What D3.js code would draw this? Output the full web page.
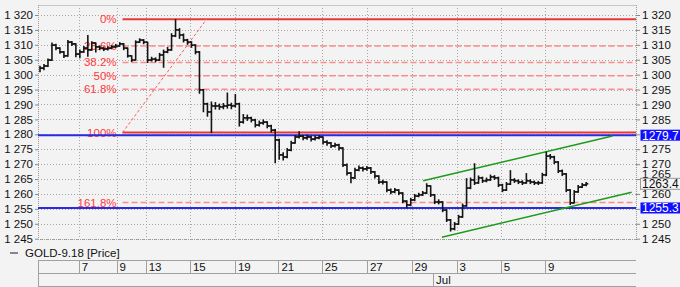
<!DOCTYPE html>
<html>
<head>
<meta charset="utf-8">
<script src="https://cdn.jsdelivr.net/npm/d3@7"></script>
<style>
  html, body { margin: 0; padding: 0; background: #f3f3f3; }
  svg { display: block; font-family: "Liberation Sans", Arial, sans-serif; }
</style>
</head>
<body>
<div class="vis-chart"></div>
<script>
// GOLD-9.18 bars, one per ~1/5 of a trading day
const closes = [
  1302.2, 1302.9, 1304.9, 1309.9, 1308.9, 1307.6, 1306.3, 1310.9, 1310.3, 1306.9,
  1307.6, 1308.9, 1308.3, 1310.6, 1309.3, 1308.9, 1308.6, 1308.9, 1309.3, 1309.6,
  1310.3, 1308.9, 1306.3, 1304.9, 1310.9, 1311.6, 1310.9, 1304.9, 1305.2, 1304.9,
  1306.6, 1307.6, 1308.3, 1313.0, 1315.0, 1313.3, 1311.6, 1310.9, 1309.9, 1307.6,
  1294.9, 1290.2, 1287.5, 1289.5, 1289.5, 1289.2, 1289.5, 1289.8, 1289.5, 1290.2,
  1284.1, 1285.5, 1285.5, 1284.8, 1283.1, 1283.8, 1284.1, 1282.8, 1281.4, 1278.1,
  1273.1, 1272.4, 1274.7, 1277.1, 1279.1, 1279.4, 1278.8, 1279.1, 1278.4, 1278.8,
  1279.1, 1277.4, 1277.1, 1276.1, 1276.4, 1275.4, 1269.7, 1267.0, 1265.4, 1268.0,
  1268.7, 1268.4, 1268.7, 1267.4, 1266.0, 1264.0, 1264.0, 1261.3, 1260.7, 1261.3,
  1260.3, 1257.6, 1256.3, 1258.0, 1259.3, 1259.7, 1260.3, 1262.7, 1259.7, 1257.3,
  1257.3, 1254.6, 1251.3, 1248.3, 1249.9, 1252.3, 1256.0, 1262.0, 1264.7, 1263.7,
  1265.4, 1264.4, 1264.7, 1265.7, 1265.4, 1263.0, 1261.3, 1263.3, 1264.7, 1264.4,
  1264.0, 1263.7, 1264.4, 1264.0, 1263.7, 1263.7, 1266.4, 1272.7, 1272.4, 1270.7,
  1267.7, 1266.7, 1261.3, 1257.0, 1260.7, 1262.3, 1263.0, 1263.4
];
const highs = [
  1303.0, 1303.6, 1305.4, 1310.8, 1310.4, 1309.2, 1307.9, 1311.6, 1311.3, 1310.5,
  1308.4, 1309.6, 1313.3, 1311.2, 1310.8, 1309.8, 1309.4, 1309.5, 1309.9, 1310.3,
  1310.9, 1310.6, 1309.1, 1306.5, 1311.5, 1312.2, 1311.9, 1311.0, 1306.0, 1305.8,
  1307.3, 1308.4, 1309.3, 1313.9, 1318.6, 1315.6, 1313.8, 1312.0, 1311.2, 1310.2,
  1307.9, 1295.2, 1290.6, 1291.0, 1290.8, 1290.3, 1290.5, 1294.0, 1290.6, 1293.5,
  1290.6, 1286.8, 1286.6, 1285.9, 1285.2, 1284.6, 1285.0, 1284.4, 1283.2, 1281.8,
  1278.5, 1274.0, 1275.4, 1277.8, 1279.8, 1281.0, 1279.8, 1279.9, 1279.5, 1279.6,
  1279.8, 1279.3, 1278.0, 1277.4, 1277.2, 1276.8, 1275.7, 1270.2, 1267.4, 1268.8,
  1269.5, 1269.2, 1269.4, 1269.0, 1267.7, 1266.3, 1264.8, 1264.3, 1261.8, 1262.0,
  1261.6, 1260.6, 1257.9, 1258.7, 1260.0, 1260.4, 1261.0, 1263.6, 1262.9, 1260.0,
  1258.2, 1257.6, 1254.9, 1251.6, 1250.6, 1253.0, 1256.8, 1265.3, 1265.5, 1270.3,
  1266.2, 1265.8, 1265.5, 1266.5, 1266.3, 1265.8, 1263.4, 1264.0, 1268.0, 1265.3,
  1264.9, 1264.6, 1267.0, 1264.9, 1264.5, 1264.4, 1267.1, 1274.2, 1273.4, 1272.8,
  1271.0, 1268.2, 1267.0, 1261.6, 1261.3, 1263.0, 1263.7, 1264.0
];
const lows = [
  1300.8, 1301.5, 1302.6, 1304.6, 1308.2, 1307.0, 1305.6, 1306.0, 1309.6, 1305.8,
  1305.5, 1307.3, 1306.0, 1308.0, 1307.4, 1308.2, 1307.9, 1308.1, 1308.5, 1308.9,
  1309.4, 1308.2, 1305.7, 1304.2, 1304.7, 1310.6, 1310.2, 1303.9, 1304.4, 1304.1,
  1304.6, 1302.3, 1307.2, 1308.0, 1312.6, 1312.0, 1310.8, 1310.0, 1309.0, 1306.8,
  1293.6, 1287.4, 1285.9, 1280.4, 1288.3, 1288.2, 1288.4, 1288.6, 1288.4, 1289.0,
  1282.6, 1283.6, 1284.5, 1284.0, 1282.3, 1282.6, 1283.2, 1282.0, 1280.6, 1270.3,
  1271.5, 1271.2, 1272.0, 1274.3, 1276.8, 1278.6, 1278.0, 1278.2, 1277.6, 1277.9,
  1278.3, 1276.6, 1276.2, 1275.4, 1275.6, 1274.6, 1269.0, 1266.2, 1263.6, 1265.0,
  1267.6, 1267.5, 1267.8, 1266.7, 1265.2, 1263.3, 1263.2, 1260.6, 1259.9, 1260.2,
  1259.6, 1256.9, 1255.2, 1255.9, 1257.6, 1258.9, 1259.3, 1260.0, 1259.0, 1256.6,
  1256.5, 1253.9, 1250.6, 1247.4, 1247.8, 1249.6, 1252.0, 1255.7, 1261.6, 1263.0,
  1263.4, 1263.7, 1263.9, 1264.4, 1264.7, 1262.3, 1260.6, 1261.0, 1263.0, 1263.7,
  1263.3, 1263.0, 1263.4, 1263.3, 1263.0, 1263.0, 1263.4, 1266.0, 1271.6, 1270.0,
  1267.0, 1266.0, 1260.6, 1256.3, 1256.8, 1260.4, 1262.0, 1262.6
];

// day boundaries on the bar axis
const dayTicks = [10.2, 19.7, 27.0, 38.1, 49.4, 60.3, 71.2, 82.5, 93.7, 105.0, 116.1, 127.2];
const dayLabels = ['7', '9', '13', '15', '19', '21', '25', '27', '29', '3', '5', '9'];
const monthTicks = [99.1];
const monthLabels = ['Jul'];

// Fibonacci retracement, drawn from bar 21.2 (low) to bar 42.3 (high)
const fibLabels = ['0%', '23.6%', '38.2%', '50%', '61.8%', '100%', '161.8%'];
const fibLevels = [1318.6, 1309.6, 1304.1, 1299.6, 1295.1, 1280.6, 1257.1];
const fibAnchor = [[21.2, 1280.6], [42.3, 1318.6]];

// horizontal blue levels and trend channel
const hLevels = [1279.7, 1255.3];
const channel = [
  [[96.6, 1264.45], [144.1, 1279.4]],
  [[101.3, 1245.5], [148.9, 1260.55]]
];
const lastPrice = 1263.4;

const W = 680, H = 287;
const plot = { left: 38, right: 636, top: 5, bottom: 239 };
const FONT = 11.5;

const svg = d3.select('.vis-chart').append('svg')
  .attr('width', W).attr('height', H);

const x = d3.scaleLinear().domain([0, 150]).range([plot.left, plot.right]);
const y = d3.scaleLinear().domain([1244.9, 1323.35]).range([plot.bottom, plot.top]);

const loc = d3.formatLocale({ decimal: '.', thousands: ' ', grouping: [3], currency: ['', ''] });
const fmt = loc.format(',');
const yTicks = d3.range(1245, 1321, 5);

const px = (v) => Math.round(v) + 0.5;

// grid
const grid = svg.append('g').attr('shape-rendering', 'crispEdges');
grid.selectAll('.hg').data(yTicks).join('line')
  .attr('x1', plot.left).attr('x2', plot.right)
  .attr('y1', (d) => px(y(d))).attr('y2', (d) => px(y(d)))
  .attr('stroke', '#a8a8a8').attr('stroke-dasharray', '1,2');
grid.selectAll('.vg').data(dayTicks).join('line')
  .attr('x1', (d) => px(x(d))).attr('x2', (d) => px(x(d)))
  .attr('y1', plot.top).attr('y2', plot.bottom)
  .attr('stroke', '#a8a8a8').attr('stroke-dasharray', '1,2');
// frame
grid.append('line').attr('x1', plot.left).attr('x2', plot.right)
  .attr('y1', plot.top + 0.5).attr('y2', plot.top + 0.5).attr('stroke', '#c8c8c8');
[plot.left, plot.right].forEach((xx) => {
  grid.append('line').attr('x1', xx + 0.5).attr('x2', xx + 0.5)
    .attr('y1', plot.top).attr('y2', plot.bottom + 1)
    .attr('stroke', '#999').attr('stroke-dasharray', '1,1');
});
grid.append('line').attr('x1', plot.left).attr('x2', plot.right)
  .attr('y1', plot.bottom + 0.5).attr('y2', plot.bottom + 0.5)
  .attr('stroke', '#999').attr('stroke-dasharray', '1,1');

// fib lines
const fibX0 = x(fibAnchor[0][0]);
const fib = svg.append('g');
fib.selectAll('line').data(fibLevels).join('line')
  .attr('x1', fibX0).attr('x2', plot.right)
  .attr('y1', (d) => y(d)).attr('y2', (d) => y(d))
  .attr('stroke', (d, i) => (i === 0 || i === 5 ? '#e8383c' : '#ff8a8a'))
  .attr('stroke-width', (d, i) => (i === 0 || i === 5 ? 2 : 1.5))
  .attr('stroke-dasharray', (d, i) => (i === 0 || i === 5 ? null : '6,3'));
fib.append('line')
  .attr('x1', x(fibAnchor[0][0])).attr('y1', y(fibAnchor[0][1]))
  .attr('x2', x(fibAnchor[1][0])).attr('y2', y(fibAnchor[1][1]))
  .attr('stroke', '#ff6060').attr('stroke-width', 1).attr('stroke-dasharray', '3,2');
fib.selectAll('text').data(fibLevels).join('text')
  .attr('x', fibX0 - 6).attr('y', (d) => y(d) + 4)
  .attr('text-anchor', 'end').attr('font-size', FONT).attr('fill', '#ff3a3a')
  .text((d, i) => fibLabels[i]);

// blue levels
svg.append('g').selectAll('line').data(hLevels).join('line')
  .attr('x1', plot.left).attr('x2', plot.right)
  .attr('y1', (d) => y(d)).attr('y2', (d) => y(d))
  .attr('stroke', '#2a2ae0').attr('stroke-width', 2);

// channel
svg.append('g').selectAll('line').data(channel).join('line')
  .attr('x1', (d) => x(d[0][0])).attr('y1', (d) => y(d[0][1]))
  .attr('x2', (d) => x(d[1][0])).attr('y2', (d) => y(d[1][1]))
  .attr('stroke', '#1c9a1c').attr('stroke-width', 1.5);

// price bars (high-low with previous/close ticks)
const bars = svg.append('g').attr('stroke', '#151515');
closes.forEach((c, i) => {
  const cx = x(i + 0.5);
  bars.append('line').attr('x1', cx).attr('x2', cx)
    .attr('y1', y(highs[i])).attr('y2', y(lows[i])).attr('stroke-width', 1.6);
  if (i > 0) {
    bars.append('line').attr('x1', cx - 2.1).attr('x2', cx)
      .attr('y1', y(closes[i - 1])).attr('y2', y(closes[i - 1])).attr('stroke-width', 1.8);
  }
  bars.append('line').attr('x1', cx).attr('x2', cx + 2.1)
    .attr('y1', y(c)).attr('y2', y(c)).attr('stroke-width', 1.8);
});

// y axes (right labels hidden where a value tag sits on top, as in the original)
const axL = svg.append('g').attr('transform', `translate(${plot.left},0)`)
  .call(d3.axisLeft(y).tickValues(yTicks).tickFormat(fmt).tickSize(3).tickPadding(2));
const axR = svg.append('g').attr('transform', `translate(${plot.right},0)`)
  .call(d3.axisRight(y).tickValues(yTicks).tickFormat(fmt).tickSize(4).tickPadding(2));
[axL, axR].forEach((a) => {
  a.select('.domain').remove();
  a.selectAll('line').attr('stroke', '#888');
  a.selectAll('text').attr('font-size', FONT).attr('fill', '#111')
    .attr('font-family', '"Liberation Sans", Arial, sans-serif');
});
axR.selectAll('.tick text')
  .filter((d) => hLevels.some((h) => Math.abs(y(h) - y(d)) < 6))
  .remove();
axR.selectAll('.tick text')
  .filter((d) => Math.abs(y(lastPrice) - y(d)) < 6)
  .attr('dy', '-0.1em');

// right-side value tags
const tag = (v, bg, fg, border) => {
  const g = svg.append('g').attr('transform', `translate(${plot.right + 4},${y(v)})`);
  g.append('rect').attr('x', 0.5).attr('y', -5.5).attr('width', 44).attr('height', 11)
    .attr('fill', bg).attr('stroke', border || 'none');
  g.append('text').attr('x', 2).attr('y', 4.3).attr('font-size', 12)
    .attr('fill', fg).text(v.toFixed(1));
};
tag(hLevels[0], '#1010ff', '#fff');
tag(hLevels[1], '#1010ff', '#fff');
tag(lastPrice, '#f6f6f6', '#111', '#999');

// legend
svg.append('line').attr('x1', 10).attr('x2', 18).attr('y1', 253).attr('y2', 253)
  .attr('stroke', '#888').attr('stroke-width', 2);
svg.append('text').attr('x', 25).attr('y', 257).attr('font-size', FONT).attr('fill', '#111')
  .text('GOLD-9.18 [Price]');

// date axis box
const box = svg.append('g').attr('shape-rendering', 'crispEdges').attr('stroke', '#a0a0a0');
[260, 273, 286].forEach((yy) => {
  box.append('line').attr('x1', plot.left).attr('x2', plot.right)
    .attr('y1', yy + 0.5).attr('y2', yy + 0.5);
});
box.append('line').attr('x1', plot.left + 0.5).attr('x2', plot.left + 0.5)
  .attr('y1', 260).attr('y2', 287);
box.selectAll('.d').data(dayTicks).join('line')
  .attr('x1', (d) => px(x(d))).attr('x2', (d) => px(x(d))).attr('y1', 260).attr('y2', 273);
box.selectAll('.m').data(monthTicks).join('line')
  .attr('x1', (d) => px(x(d))).attr('x2', (d) => px(x(d))).attr('y1', 273).attr('y2', 287);

svg.append('g').selectAll('text').data(dayTicks).join('text')
  .attr('x', (d) => x(d) + 3).attr('y', 271).attr('font-size', FONT).attr('fill', '#111')
  .text((d, i) => dayLabels[i]);
svg.append('g').selectAll('text').data(monthTicks).join('text')
  .attr('x', (d) => x(d) + 3).attr('y', 284).attr('font-size', FONT).attr('fill', '#111')
  .text((d, i) => monthLabels[i]);
</script>
</body>
</html>
